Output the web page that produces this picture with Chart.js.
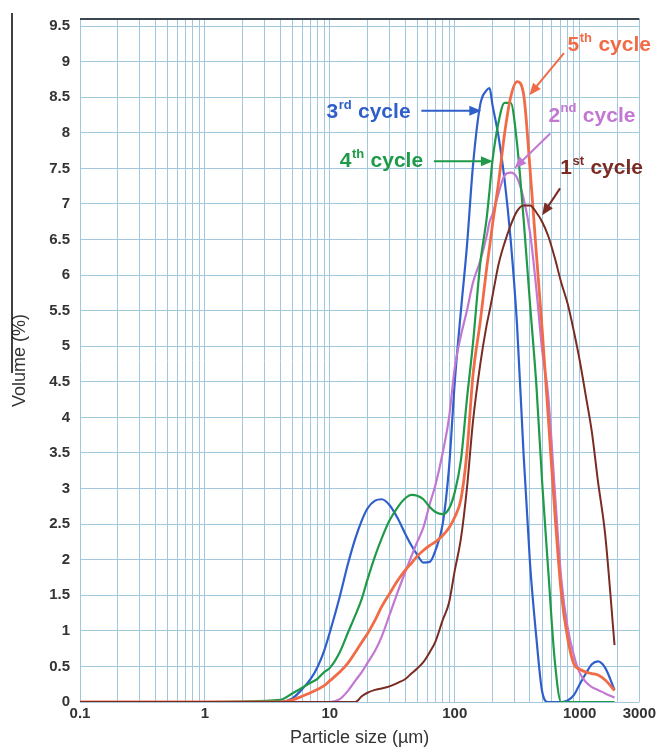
<!DOCTYPE html>
<html><head><meta charset="utf-8">
<script src="https://cdn.jsdelivr.net/npm/chart.js@4/dist/chart.umd.min.js"></script>
<style>html,body{margin:0;padding:0;background:#fff;}canvas{display:block}</style>
</head><body>
<canvas id="c" width="659" height="749"></canvas>
<script>
// ---- data (particle size in µm, volume in %) ----
const sizes = [0.1,1,4,5,6,7,8,9,10,12,14,16,18,20,23,26,30,35,40,45,50,56,63,70,80,90,100,112,125,140,160,180,190,200,224,250,280,315,355,400,450,500,560,630,710,800,900,1000,1120,1250,1400,1600,1900];
const cycle1 = [0,0,0,0,0,0,0,0,0,0,0,0,0.08,0.13,0.17,0.19,0.22,0.27,0.32,0.4,0.47,0.56,0.7,0.85,1.15,1.4,1.85,2.3,3.0,3.95,4.75,5.3,5.5,5.7,6.15,6.45,6.7,6.9,6.98,6.98,6.88,6.75,6.55,6.25,5.9,5.6,5.2,4.8,4.3,3.8,3.1,2.35,0.8];
const cycle2 = [0,0,0,0,0,0,0,0,0,0.04,0.16,0.3,0.42,0.55,0.72,0.92,1.22,1.55,1.82,2.05,2.25,2.45,2.78,3.05,3.5,4.0,4.7,5.15,5.5,5.9,6.2,6.55,6.75,6.85,7.15,7.4,7.44,7.37,7.08,6.6,5.8,4.95,4.3,3.0,1.75,1.05,0.65,0.41,0.28,0.21,0.17,0.12,0.06];
const cycle3 = [0,0,0,0.05,0.18,0.32,0.5,0.72,0.98,1.48,1.95,2.3,2.55,2.72,2.83,2.85,2.77,2.58,2.37,2.2,2.07,1.96,1.97,2.13,2.5,3.3,4.5,5.5,6.4,7.55,8.4,8.6,8.63,8.4,7.95,7.35,6.5,5.3,3.5,1.95,0.9,0.15,0,0,0,0.02,0.1,0.25,0.4,0.53,0.57,0.48,0.17];
const cycle4 = [0,0,0.03,0.12,0.2,0.27,0.33,0.42,0.48,0.7,0.98,1.22,1.45,1.72,2.05,2.3,2.55,2.74,2.86,2.91,2.9,2.85,2.74,2.67,2.64,2.72,2.95,3.4,4.25,5.05,6.17,6.8,7.2,7.6,8.15,8.42,8.42,7.85,6.8,5.6,4.45,3.1,1.85,0.6,0,0,0,0,0,0,0,0,0];
const cycle5 = [0,0,0,0.03,0.08,0.13,0.18,0.23,0.3,0.42,0.55,0.7,0.84,0.96,1.15,1.34,1.52,1.71,1.85,1.95,2.05,2.13,2.2,2.25,2.34,2.45,2.6,2.85,3.5,4.6,5.35,6.1,6.4,6.7,7.3,7.98,8.5,8.72,8.55,7.5,6.3,5.25,4.0,2.7,1.55,0.9,0.53,0.46,0.42,0.4,0.38,0.31,0.16];

const seriesNames = ['1st cycle','2nd cycle','3rd cycle','4th cycle','5th cycle'];
const seriesValues = [cycle1, cycle2, cycle3, cycle4, cycle5];

const yTickValues = [0,0.5,1,1.5,2,2.5,3,3.5,4,4.5,5,5.5,6,6.5,7,7.5,8,8.5,9,9.5];
const yMax = 9.6;
const xGridValues = [0.1,0.2,0.3,0.4,0.5,0.6,0.7,0.8,0.9,1,2,3,4,5,6,7,8,9,10,20,30,40,50,60,70,80,90,100,200,300,400,500,600,700,800,900,1000,2000,3000];
const xTickLabels = ['0.1','1','10','100','1000','3000'];

// ---- styles ----
const colors = ['#7a2c22','#c277d3','#2f5fca','#1f9a48','#f26b47'];
const widths = [2,2.2,2.2,2.2,2.8];
const FONT = "'Liberation Sans', Arial, sans-serif";
const GRID = '#a2c7dc';

// annotation labels (data coordinates)
const notes = [
  {num:'5', sup:'th', color:colors[4], tx:800, ty:9.23, ax:[748,9.12], ah:[395,8.53]},
  {num:'3', sup:'rd', color:colors[2], tx:9.4, ty:8.29, ax:[54,8.31], ah:[163,8.31]},
  {num:'2', sup:'nd', color:colors[1], tx:562, ty:8.24, ax:[580,7.99], ah:[300,7.5]},
  {num:'4', sup:'th', color:colors[3], tx:12.0, ty:7.6, ax:[68,7.6], ah:[202,7.6]},
  {num:'1', sup:'st', color:colors[0], tx:700, ty:7.5, ax:[696,7.22], ah:[500,6.84]}
];

const notePlugin = {
  id:'notes',
  afterDraw(chart){
    const c = chart.ctx, xs = chart.scales.x, ys = chart.scales.y;
    c.save();
    // left frame stroke
    c.strokeStyle = '#000'; c.lineWidth = 1.5;
    c.beginPath(); c.moveTo(12,13); c.lineTo(12,373); c.stroke();
    notes.forEach(n=>{
      const x = xs.getPixelForValue(n.tx), y = ys.getPixelForValue(n.ty);
      c.fillStyle = n.color; c.textBaseline = 'middle'; c.textAlign = 'left';
      c.font = 'bold 21px ' + FONT;
      c.fillText(n.num, x, y);
      let w = c.measureText(n.num).width;
      c.font = 'bold 13px ' + FONT;
      c.fillText(n.sup, x + w + 0.5, y - 7);
      w += c.measureText(n.sup).width + 1;
      c.font = 'bold 21px ' + FONT;
      c.fillText(' cycle', x + w, y);
      // arrow
      const x1 = xs.getPixelForValue(n.ax[0]), y1 = ys.getPixelForValue(n.ax[1]);
      const x2 = xs.getPixelForValue(n.ah[0]), y2 = ys.getPixelForValue(n.ah[1]);
      const ang = Math.atan2(y2-y1, x2-x1), L = 12, H = 5;
      c.strokeStyle = n.color; c.lineWidth = 2;
      c.beginPath(); c.moveTo(x1,y1); c.lineTo(x2 - L*0.8*Math.cos(ang), y2 - L*0.8*Math.sin(ang)); c.stroke();
      c.beginPath();
      c.moveTo(x2,y2);
      c.lineTo(x2 - L*Math.cos(ang) + H*Math.sin(ang), y2 - L*Math.sin(ang) - H*Math.cos(ang));
      c.lineTo(x2 - L*Math.cos(ang) - H*Math.sin(ang), y2 - L*Math.sin(ang) + H*Math.cos(ang));
      c.closePath(); c.fill();
    });
    c.restore();
  }
};

const near = (a,b)=>Math.abs(a-b) < 1e-9*Math.max(1,Math.abs(b));

new Chart(document.getElementById('c'), {
  type:'line',
  data:{
    datasets: seriesValues.map((vals,i)=>({
      label: seriesNames[i],
      data: sizes.map((s,j)=>({x:s, y:vals[j]})),
      borderColor: colors[i],
      backgroundColor: colors[i],
      borderWidth: widths[i],
      pointRadius: 0,
      fill: false,
      cubicInterpolationMode: 'monotone',
      order: [0,3,4,2,1][i]
    }))
  },
  options:{
    responsive:false, animation:false,
    layout:{padding:{left:0,right:19,top:18,bottom:0}},
    plugins:{legend:{display:false}, tooltip:{enabled:false}},
    scales:{
      x:{
        type:'logarithmic', min:0.1, max:3000,
        afterBuildTicks: s => { s.ticks = xGridValues.map(v=>({value:v})); },
        afterFit: s => { s.height = 47; },
        ticks:{
          autoSkip:false, maxRotation:0, minRotation:0, padding:3, color:'#333',
          font:{family:FONT, size:15, weight:'bold'},
          callback:(v)=>{ const t = xTickLabels.find(l=>near(parseFloat(l), v)); return t === undefined ? '' : t; }
        },
        grid:{color:GRID, lineWidth:1, drawTicks:false},
        border:{display:false},
        title:{display:true, text:'Particle size (µm)', color:'#333', font:{family:FONT, size:18}, padding:{top:1,bottom:0}}
      },
      y:{
        min:0, max:yMax,
        afterBuildTicks: s => { s.ticks = yTickValues.concat([yMax]).map(v=>({value:v})); },
        afterFit: s => { s.width = 80; },
        ticks:{
          padding:10, color:'#333',
          font:{family:FONT, size:15, weight:'bold'},
          callback:(v)=> near(v,yMax) ? '' : String(v)
        },
        grid:{
          color: ctx => (ctx.tick && near(ctx.tick.value, yMax)) ? '#3b4650' : GRID,
          lineWidth: ctx => (ctx.tick && near(ctx.tick.value, yMax)) ? 2 : 1,
          drawTicks:false
        },
        border:{display:false},
        title:{display:true, text:'Volume (%)', color:'#333', font:{family:FONT, size:18}, padding:{top:9,bottom:0}}
      }
    }
  },
  plugins:[notePlugin]
});
</script>
</body></html>
